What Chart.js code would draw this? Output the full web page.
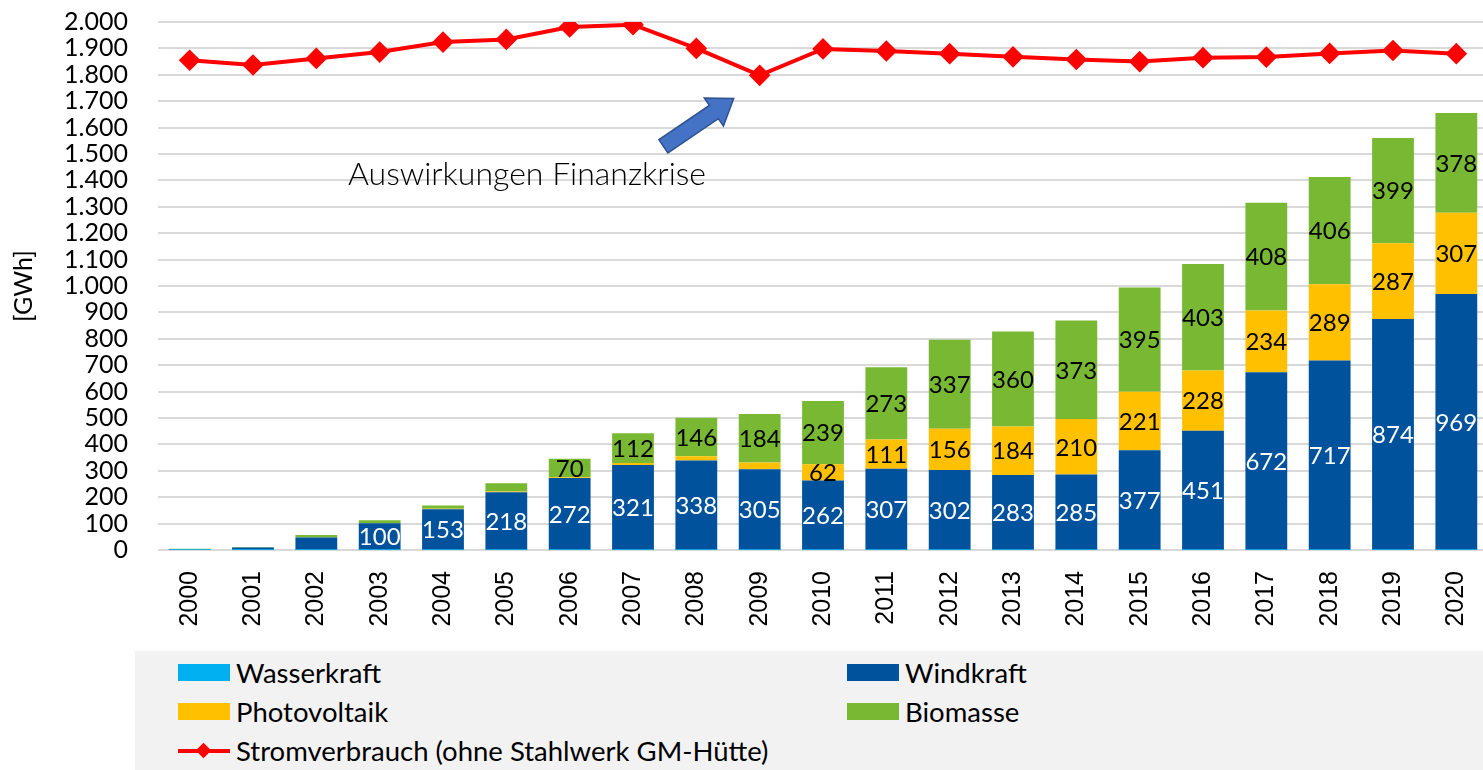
<!DOCTYPE html>
<html lang="de">
<head>
<meta charset="utf-8">
<title>Stromerzeugung aus erneuerbaren Energien und Stromverbrauch</title>
<script src="https://cdn.jsdelivr.net/npm/chart.js@4.4.0/dist/chart.umd.min.js"></script>
<style>
  html, body { margin: 0; padding: 0; background: #fff; overflow: hidden; }
  #wrap { position: relative; width: 1483px; height: 770px; overflow: hidden; }
  #c { position: absolute; left: 0; top: -23px; }
  .legend { position: absolute; left: 135px; top: 651px; width: 1348px; height: 119px; background: #f2f2f2;
            font-family: Lato, sans-serif; font-size: 27.5px; color: #000; }
  .item { position: absolute; display: flex; align-items: center; height: 30px; }
  .sw { width: 52px; height: 17px; margin-right: 6px; }
  .ln { position: relative; width: 52px; height: 17px; margin-right: 6px; }
  .ln:before { content: ""; position: absolute; left: 0; right: 0; top: 7px; height: 4px; background: #ff0000; }
  .ln:after { content: ""; position: absolute; left: 20px; top: 3px; width: 11px; height: 11px; background: #ff0000; transform: rotate(45deg); }
</style>
</head>
<body>
<div id="wrap">
  <canvas id="c" width="1500" height="673"></canvas>
  <div class="legend">
    <div class="item" style="left:43px; top:6px"><div class="sw" style="background:#00b0f0"></div>Wasserkraft</div>
    <div class="item" style="left:712px; top:6px"><div class="sw" style="background:#00529c"></div>Windkraft</div>
    <div class="item" style="left:43px; top:45px"><div class="sw" style="background:#ffc000"></div>Photovoltaik</div>
    <div class="item" style="left:712px; top:45px"><div class="sw" style="background:#78b833"></div>Biomasse</div>
    <div class="item" style="left:43px; top:84px"><div class="ln"></div>Stromverbrauch (ohne Stahlwerk GM-Hütte)</div>
  </div>
</div>
<script>
// Werte in GWh
const years = ['2000', '2001', '2002', '2003', '2004', '2005', '2006', '2007', '2008', '2009', '2010',
               '2011', '2012', '2013', '2014', '2015', '2016', '2017', '2018', '2019', '2020'];
const wasserkraft = [1, 1, 1, 1, 1, 1, 1, 1, 1, 1, 1, 1, 1, 1, 1, 1, 1, 1, 1, 1, 1];
const windkraft = [1, 8, 46, 100, 153, 218, 272, 321, 338, 305, 262, 307, 302, 283, 285, 377, 451, 672, 717, 874, 969];
const photovoltaik = [0, 0, 0, 1, 2, 3, 3, 8, 16, 25, 62, 111, 156, 184, 210, 221, 228, 234, 289, 287, 307];
const biomasse = [3, 2, 10, 11, 13, 31, 70, 112, 146, 184, 239, 273, 337, 360, 373, 395, 403, 408, 406, 399, 378];
const stromverbrauch = [1855, 1837, 1862, 1886, 1924, 1934, 1981, 1990, 1900, 1798, 1898,
                        1890, 1880, 1868, 1858, 1850, 1865, 1867, 1881, 1892, 1880];
const yTicks = [0, 100, 200, 300, 400, 500, 600, 700, 800, 900, 1000,
                1100, 1200, 1300, 1400, 1500, 1600, 1700, 1800, 1900, 2000];

Chart.defaults.font.family = 'Lato, sans-serif';
Chart.defaults.color = '#000';

// Zahlen mittig in die Balkensegmente schreiben
const barLabels = {
  id: 'barLabels',
  afterDatasetsDraw(chart) {
    const ctx = chart.ctx;
    ctx.save();
    ctx.font = '24px Lato, sans-serif';
    ctx.textAlign = 'center';
    ctx.textBaseline = 'middle';
    chart.data.datasets.forEach((ds, i) => {
      if (ds.labelMin === undefined) return;
      ctx.fillStyle = ds.labelColor;
      chart.getDatasetMeta(i).data.forEach((bar, j) => {
        const v = ds.data[j];
        if (v < ds.labelMin) return;
        ctx.fillText(v, bar.x, (bar.y + bar.base) / 2 + 1);
      });
    });
    ctx.restore();
  }
};

// Hinweis "Auswirkungen Finanzkrise" mit Blockpfeil
const finanzkrise = {
  id: 'finanzkrise',
  afterDraw(chart) {
    const { ctx, scales: { x, y } } = chart;
    ctx.save();
    ctx.font = '300 32px Lato, sans-serif';
    ctx.fillStyle = '#000';
    ctx.textBaseline = 'middle';
    ctx.fillText('Auswirkungen Finanzkrise', x.getPixelForValue(2.5), y.getPixelForValue(1420));

    const x0 = x.getPixelForValue(7.48), y0 = y.getPixelForValue(1529);
    const x1 = x.getPixelForValue(8.59), y1 = y.getPixelForValue(1710);
    const ang = Math.atan2(y1 - y0, x1 - x0);
    const len = Math.hypot(x1 - x0, y1 - y0);
    const sh = 8, hw = 17, hl = 24;
    ctx.translate(x0, y0);
    ctx.rotate(ang);
    ctx.beginPath();
    ctx.moveTo(0, -sh);
    ctx.lineTo(len - hl, -sh);
    ctx.lineTo(len - hl, -hw);
    ctx.lineTo(len, 0);
    ctx.lineTo(len - hl, hw);
    ctx.lineTo(len - hl, sh);
    ctx.lineTo(0, sh);
    ctx.closePath();
    ctx.fillStyle = '#4472c4';
    ctx.fill();
    ctx.lineWidth = 1.5;
    ctx.strokeStyle = '#2f528f';
    ctx.stroke();
    ctx.restore();
  }
};

const barBase = { type: 'bar', stack: 'erzeugung', order: 1, barPercentage: 0.66, categoryPercentage: 1 };

new Chart(document.getElementById('c'), {
  data: {
    labels: years,
    datasets: [
      { ...barBase, label: 'Wasserkraft', data: wasserkraft, backgroundColor: '#00b0f0' },
      { ...barBase, label: 'Windkraft', data: windkraft, backgroundColor: '#00529c',
        labelMin: 100, labelColor: '#fff' },
      { ...barBase, label: 'Photovoltaik', data: photovoltaik, backgroundColor: '#ffc000',
        labelMin: 60, labelColor: '#000' },
      { ...barBase, label: 'Biomasse', data: biomasse, backgroundColor: '#78b833',
        labelMin: 60, labelColor: '#000' },
      { type: 'line', label: 'Stromverbrauch (ohne Stahlwerk GM-Hütte)', data: stromverbrauch,
        stack: 'verbrauch', order: 0, borderColor: '#ff0000', backgroundColor: '#ff0000',
        borderWidth: 4, pointStyle: 'rectRot', pointRadius: 8, pointHoverRadius: 8, tension: 0 }
    ]
  },
  options: {
    responsive: false,
    animation: false,
    layout: { padding: { top: 0, right: 3, left: 0, bottom: 0 } },
    plugins: { legend: { display: false }, tooltip: { enabled: false } },
    scales: {
      x: {
        stacked: true,
        grid: { display: false },
        border: { display: false },
        ticks: { minRotation: 90, maxRotation: 90, padding: 13,
                 font: { family: '"Liberation Sans", Arial, sans-serif', size: 25 } },
        afterFit: s => { s.height = 100; }
      },
      y: {
        stacked: true,
        min: 0,
        max: 2000,
        afterBuildTicks: s => { s.ticks = yTicks.map(v => ({ value: v })); },
        grid: { color: '#d9d9d9', lineWidth: 2, drawTicks: false },
        border: { display: false },
        ticks: { padding: 30, autoSkip: false, font: { size: 25 },
                 callback: v => v.toLocaleString('de-DE') },
        title: { display: true, text: '[GWh]', font: { size: 25 }, padding: { top: 9, bottom: 0 } },
        afterFit: s => { s.width = 158; }
      }
    }
  },
  plugins: [barLabels, finanzkrise]
});
</script>
</body>
</html>
